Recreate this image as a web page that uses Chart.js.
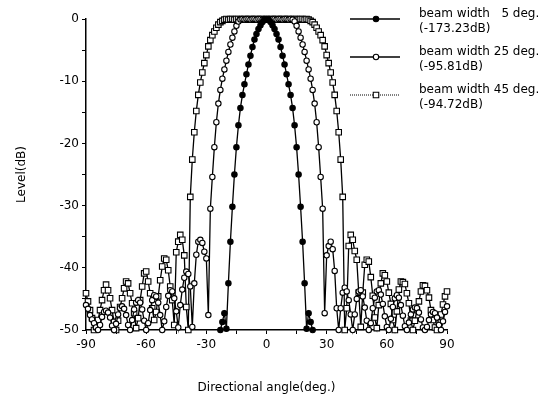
<!DOCTYPE html>
<html>
<head>
<meta charset="utf-8">
<script src="https://cdn.jsdelivr.net/npm/chart.js@4.4.1/dist/chart.umd.min.js"></script>
<style>
  html, body { margin: 0; padding: 0; background: #fff; }
  canvas { display: block; }
</style>
</head>
<body>
<canvas id="chart" width="544" height="402"></canvas>
<script>
// Directivity patterns, sampled every 1 deg from -90 to 90 (levels in dB, floor -50)
const ANGLES = []
for (let a = -90; a <= 90; a++) ANGLES.push(a)

// beam width 45 deg.
const BEAM45 = [
  -44.1, -45.4, -46.8, -48.1, -50.0, -49.5, -48.4, -46.8, -45.2, -43.6, // -90..-81
  -42.7, -43.6, -44.9, -46.8, -48.7, -50.0, -48.5, -46.3, -44.9, -43.3, // -80..-71
  -42.2, -42.5, -44.1, -45.7, -47.3, -49.7, -48.1, -45.2, -43.0, -40.9, // -70..-61
  -40.6, -42.2, -44.1, -46.5, -48.4, -47.1, -44.6, -42.0, -39.8, -38.5, // -60..-51
  -38.7, -40.4, -43.0, -45.2, -49.2, -37.5, -35.8, -34.7, -35.5, -38.0, // -50..-41
  -46.3, -50.0, -28.6, -22.6, -18.2, -14.8, -12.2, -10.2, -8.6, -7.1,   // -40..-31
  -5.8, -4.4, -3.4, -2.6, -2.0, -1.4, -0.9, -0.5, -0.3, -0.1,           // -30..-21
  0, -0.1, 0, 0, -0.1, 0, 0, -0.1, 0, 0,                                // -20..-11
  -0.1, 0, 0, -0.1, 0, 0, -0.1, 0, 0, -0.1,                             // -10..-1
  0,                                                                    // 0
  -0.1, 0, 0, -0.1, 0, 0, -0.1, 0, 0, -0.1,                             // 1..10
  0, 0, -0.1, 0, 0, -0.1, 0, 0, -0.1, 0,                                // 11..20
  -0.1, -0.3, -0.5, -0.9, -1.4, -2.0, -2.6, -3.4, -4.4, -5.8,           // 21..30
  -7.1, -8.6, -10.2, -12.2, -14.8, -18.2, -22.6, -28.6, -50.0, -46.5,   // 31..40
  -36.5, -34.7, -35.5, -37.3, -38.7, -44.0, -49.5, -44.0, -39.5, -38.7, // 41..50
  -39.0, -41.5, -44.5, -48.0, -49.7, -46.0, -42.5, -40.9, -41.2, -42.2, // 51..60
  -44.0, -45.8, -48.4, -50.0, -47.0, -43.5, -42.2, -42.3, -42.6, -44.1, // 61..70
  -45.7, -48.5, -50.0, -48.5, -46.8, -45.4, -43.8, -42.8, -42.9, -43.6, // 71..80
  -44.8, -46.8, -48.4, -49.6, -50.0, -48.8, -47.5, -45.9, -44.6, -43.8, // 81..90
]

// beam width 25 deg.
const BEAM25 = [
  -46.0, -46.6, -47.6, -48.3, -48.9, -49.6, -50.0, -49.2, -47.9, -47.1, // -90..-81
  -46.9, -47.2, -48.0, -49.3, -50.0, -49.0, -47.5, -46.5, -46.2, -46.6, // -80..-71
  -47.6, -49.2, -50.0, -48.4, -46.7, -45.6, -45.2, -45.6, -46.7, -48.5, // -70..-61
  -50.0, -48.9, -46.8, -45.2, -44.4, -44.6, -45.6, -47.6, -50.0, -48.6, // -60..-51
  -46.3, -44.5, -43.6, -43.8, -44.9, -47.0, -49.6, -46.0, -43.5, -41.6, // -50..-41
  -40.6, -41.0, -43.0, -49.5, -42.5, -37.9, -35.8, -35.5, -36.0, -37.4, // -40..-31
  -38.5, -47.6, -30.5, -25.4, -20.6, -16.6, -13.6, -11.4, -9.6, -8.1,   // -30..-21
  -6.7, -5.3, -4.1, -3.0, -2.0, -1.1, -0.4, -0.1, 0, -0.1,              // -20..-11
  0, 0, -0.1, 0, 0, -0.1, 0, 0, -0.1, 0,                                // -10..-1
  0,                                                                    // 0
  0, -0.1, 0, 0, -0.1, 0, 0, -0.1, 0, 0,                                // 1..10
  -0.1, 0, -0.1, -0.4, -1.1, -2.0, -3.0, -4.1, -5.3, -6.7,              // 11..20
  -8.1, -9.6, -11.4, -13.6, -16.6, -20.6, -25.4, -30.5, -47.3, -38.0,   // 21..30
  -36.5, -35.8, -37.0, -40.5, -46.5, -50.0, -46.5, -44.0, -43.2, -43.8, // 31..40
  -45.2, -47.5, -50.0, -47.5, -45.0, -43.8, -43.6, -44.6, -46.4, -48.5, // 41..50
  -50.0, -48.9, -46.5, -44.8, -43.8, -43.6, -44.3, -45.8, -47.8, -49.5, // 51..60
  -50.0, -48.2, -46.3, -44.9, -44.4, -44.8, -46.0, -47.7, -49.4, -50.0, // 61..70
  -48.8, -47.5, -46.7, -46.4, -46.5, -47.2, -48.3, -49.6, -50.0, -49.5, // 71..80
  -48.4, -47.5, -47.1, -47.3, -48.0, -49.2, -50.0, -48.6, -47.1, -46.2, // 81..90
]

// beam width 5 deg. -- only the main lobe rises above the -50 dB floor
const BEAM5_FROM = -23
const BEAM5 = [
  -50.0, -48.7, -47.3, -49.8, -42.5, -35.8, -30.2, -25.0, -20.6, -17.1, // -23..-14
  -14.3, -12.2, -10.5, -8.9, -7.3, -5.9, -4.5, -3.3, -2.4, -1.6,        // -13..-4
  -1.0, -0.5, -0.1, 0, -0.1, -0.5, -1.0,                                // -3..3
  -1.6, -2.4, -3.3, -4.5, -5.9, -7.3, -8.9, -10.5, -12.2, -14.3,        // 4..13
  -17.1, -20.6, -25.0, -30.2, -35.8, -42.5, -49.8, -47.3, -48.7, -50.0, // 14..23
]

const LABELS = [
  ["beam width \u20075 deg.", "(-173.23dB)"],
  ["beam width 25 deg.", "(-95.81dB)"],
  ["beam width 45 deg.", "(-94.72dB)"],
]

const FONT = "'DejaVu Sans', sans-serif"

function toPoints(values, from) {
  return values.map((v, i) => ({ x: from + i, y: v }))
}

const datasets = [
  {
    label: LABELS[0],
    data: toPoints(BEAM5, BEAM5_FROM),
    pointStyle: "circle",
    pointRadius: 2.7,
    pointBackgroundColor: "#000",
  },
  {
    label: LABELS[1],
    data: toPoints(BEAM25, ANGLES[0]),
    pointStyle: "circle",
    pointRadius: 2.7,
    pointBackgroundColor: "#fff",
  },
  {
    label: LABELS[2],
    data: toPoints(BEAM45, ANGLES[0]),
    pointStyle: "rect",
    pointRadius: 3.9,
    pointBackgroundColor: "#fff",
    legendDash: [1, 1],
  },
].map((ds) => ({
  ...ds,
  borderColor: "#000",
  borderWidth: 1.3,
  pointBorderColor: "#000",
  pointBorderWidth: 1.1,
  tension: 0,
  clip: false,
}))

// two-line legend at the upper right, drawn with each dataset's own line and marker
const sideLegend = {
  id: "sideLegend",
  afterDraw(chart) {
    const ctx = chart.ctx
    const rows = [19, 57, 95]
    ctx.save()
    chart.data.datasets.forEach((ds, i) => {
      const y = rows[i]
      ctx.strokeStyle = "#000"
      ctx.lineWidth = ds.legendDash ? 1 : 1.4
      ctx.setLineDash(ds.legendDash || [])
      ctx.beginPath()
      ctx.moveTo(350, y)
      ctx.lineTo(400, y)
      ctx.stroke()
      ctx.setLineDash([])
      ctx.fillStyle = ds.pointBackgroundColor
      ctx.lineWidth = 1.1
      Chart.helpers.drawPoint(
        ctx,
        { pointStyle: ds.pointStyle, radius: ds.pointRadius, rotation: 0, borderWidth: 1 },
        376,
        y
      )
      ctx.fillStyle = "#000"
      ctx.font = "12px " + FONT
      ctx.textBaseline = "middle"
      ctx.textAlign = "left"
      ctx.fillText(ds.label[0], 419, y - 5)
      ctx.fillText(ds.label[1], 419, y + 9.5)
    })
    ctx.restore()
  },
}

new Chart(document.getElementById("chart"), {
  type: "line",
  data: { datasets },
  plugins: [sideLegend],
  options: {
    responsive: false,
    animation: false,
    layout: { padding: { top: 19, right: 97, left: 0, bottom: 0 } },
    plugins: { legend: { display: false }, tooltip: { enabled: false } },
    scales: {
      x: {
        type: "linear",
        min: -90,
        max: 90,
        afterFit: (s) => { s.height = 72 },
        ticks: {
          stepSize: 15,
          autoSkip: false,
          maxRotation: 0,
          padding: 4,
          color: "#000",
          font: { family: FONT, size: 12 },
          callback: (v) => (v % 30 === 0 ? v : ""),
        },
        grid: { drawOnChartArea: false, tickLength: 4, color: "#000" },
        border: { color: "#000", width: 1.5 },
        title: {
          display: true,
          text: "Directional angle(deg.)",
          color: "#000",
          font: { family: FONT, size: 12 },
          padding: { top: 0, bottom: 7 },
        },
      },
      y: {
        min: -50,
        max: 0,
        afterFit: (s) => { s.width = 86 },
        ticks: {
          stepSize: 5,
          autoSkip: false,
          padding: 3,
          color: "#000",
          font: { family: FONT, size: 12 },
          callback: (v) => (v % 10 === 0 ? v : ""),
        },
        grid: { drawOnChartArea: false, tickLength: 4, color: "#000" },
        border: { color: "#000", width: 1.5 },
        title: {
          display: true,
          text: "Level(dB)",
          color: "#000",
          font: { family: FONT, size: 12 },
          padding: { top: 15, bottom: 0 },
        },
      },
    },
  },
})
</script>
</body>
</html>
